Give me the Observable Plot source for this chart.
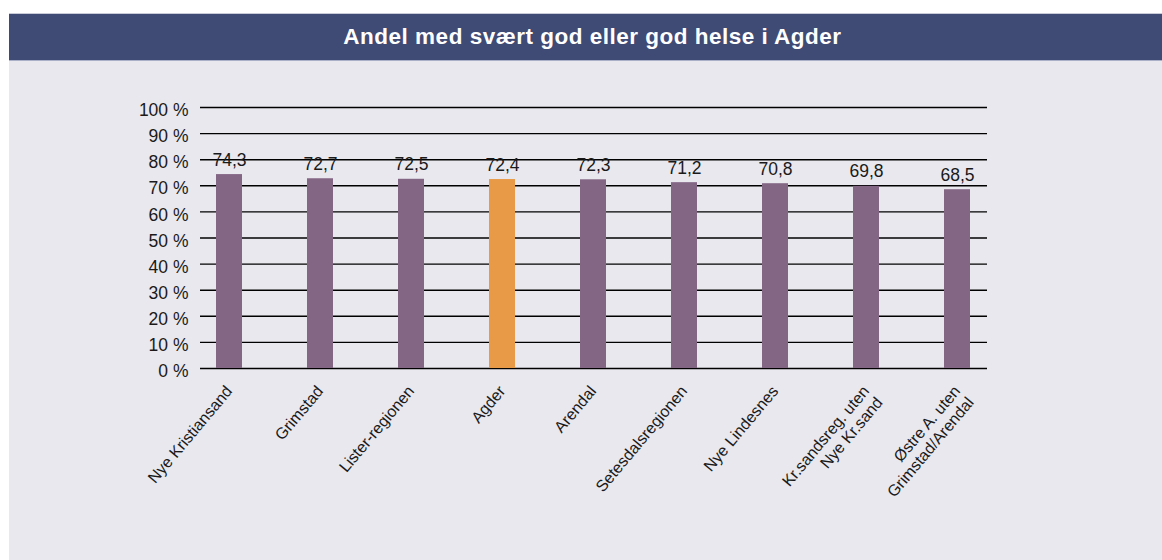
<!DOCTYPE html>
<html><head><meta charset="utf-8">
<script src="https://cdn.jsdelivr.net/npm/d3@7"></script>
<script src="https://cdn.jsdelivr.net/npm/@observablehq/plot@0.6"></script>
<style>
html,body{margin:0;padding:0;background:#fff;overflow:hidden;width:1162px;height:560px;font-family:"Liberation Sans",Arial,sans-serif;}
#wrap{position:absolute;left:9px;top:13px;width:1167px;}
#title{background:#3f4a75;border-top:1px solid #c9cbd8;border-bottom:1px solid #aab0c8;color:#fff;font-weight:bold;font-size:22.5px;letter-spacing:0.5px;text-align:center;line-height:46px;box-sizing:border-box;height:48px;}
#panel{background:#e9e8ef;height:500px;position:relative;}
#panel svg{position:absolute;left:1px;top:0;}
</style></head><body>
<div id="wrap"><div id="title">Andel med svært god eller god helse i Agder</div><div id="panel"></div></div>
<script>
const categories = ["Nye Kristiansand","Grimstad","Lister-regionen","Agder","Arendal","Setesdalsregionen","Nye Lindesnes","Kr.sandsreg. uten\nNye Kr.sand","Østre A. uten\nGrimstad/Arendal"];
const values = [74.3,72.7,72.5,72.4,72.3,71.2,70.8,69.8,68.5];
const highlight = "Agder";
const yTicks = [0,10,20,30,40,50,60,70,80,90,100];

const data = categories.map((c,i)=>({cat:c, value:values[i], hl: c===highlight}));
const fmt = v => v.toFixed(1).replace(".", ",");

const chart = Plot.plot({
  width: 1152,
  height: 500,
  marginTop: 46,
  marginBottom: 193,
  marginLeft: 173,
  marginRight: 158,
  style: {background:"transparent", fontFamily:"'Liberation Sans', Arial, sans-serif", color:"#1a1a1a"},
  x: {domain: categories, paddingInner: 0.71, paddingOuter: 0.355, axis: null},
  y: {domain: [0,100], axis: null},
  marks: [
    Plot.ruleY(yTicks, {stroke:"#000", strokeWidth:1.4, insetLeft:17, insetRight:17}),
    Plot.barY(data, {x:"cat", y:"value", fill: d => d.hl ? "#e89a47" : "#836584"}),
    Plot.text(data, {x:"cat", y:"value", text: d => fmt(d.value), lineAnchor:"bottom", dy:-9, fontSize:17.5, fill:"#1a1a1a"}),
    Plot.text(yTicks, {y: d=>d, frameAnchor:"left", text: d => d + " %", textAnchor:"end", dx:5, dy:3, fontSize:17.5, fill:"#1a1a1a"}),
    Plot.text(data, {x:"cat", frameAnchor:"bottom", text:"cat", rotate:-50, textAnchor:"end", lineAnchor:"top", dx:-6, dy:15, fontSize:16, lineHeight:1.1, fill:"#1a1a1a"})
  ]
});
document.getElementById("panel").appendChild(chart);
</script>
</body></html>
